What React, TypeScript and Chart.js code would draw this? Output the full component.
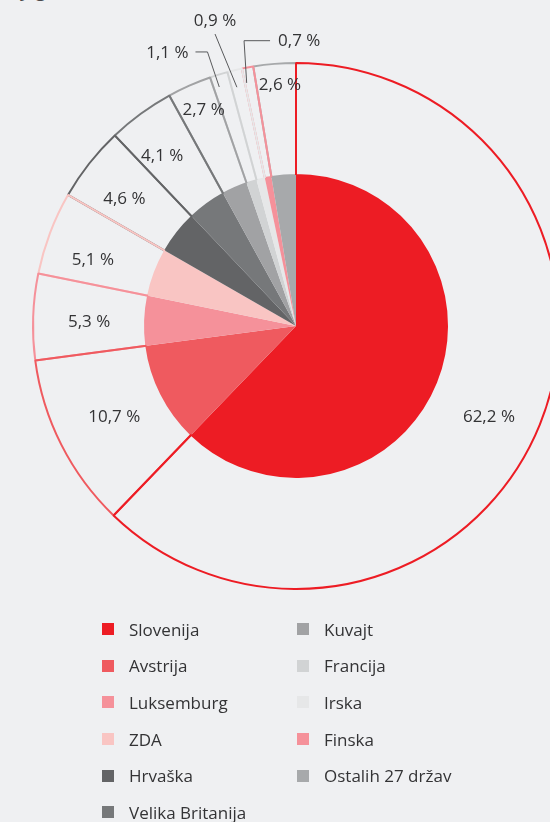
import React, { useEffect, useRef } from 'react';
import { Chart, registerables } from 'chart.js';

Chart.register(...registerables);

// ---- data ----
const categories = [
  'Slovenija',
  'Avstrija',
  'Luksemburg',
  'ZDA',
  'Hrvaška',
  'Velika Britanija',
  'Kuvajt',
  'Francija',
  'Irska',
  'Finska',
  'Ostalih 27 držav',
];
const shares = [62.2, 10.7, 5.3, 5.1, 4.6, 4.1, 2.7, 1.1, 0.9, 0.7, 2.6];
const shareLabels = shares.map((v) => v.toFixed(1).replace('.', ',') + ' %');
const colors = [
  '#ed1c24',
  '#ef5a5f',
  '#f5919a',
  '#f9c5c3',
  '#636466',
  '#76787a',
  '#a1a2a4',
  '#d1d3d4',
  '#e6e7e8',
  '#f5919a',
  '#a7a9ab',
];

// ---- layout (label placement relative to each arc) ----
type Lay =
  | { kind: 'in'; r: number; da: number }
  | { kind: 'lead'; r0: number; a0: number; r1: number; a1: number; h: number; pos: 'left' | 'up' | 'right' };
const LABEL_LAYOUT: Lay[] = [
  { kind: 'in', r: 213, da: 3.1 },
  { kind: 'in', r: 203, da: 0.4 },
  { kind: 'in', r: 207, da: -0.6 },
  { kind: 'in', r: 214, da: -2.4 },
  { kind: 'in', r: 214, da: -1.5 },
  { kind: 'in', r: 217, da: -1.9 },
  { kind: 'in', r: 236, da: 0.9 },
  { kind: 'lead', r0: 251, a0: -0.7, r1: 288, a1: -0.8, h: -12, pos: 'left' },
  { kind: 'lead', r0: 246, a0: -0.4, r1: 303, a1: -2, h: 0, pos: 'up' },
  { kind: 'lead', r0: 248, a0: -0.85, r1: 290, a1: 0.3, h: 26, pos: 'right' },
  { kind: 'in', r: 243, da: 0.9 },
];

const BG = '#eff0f2';
const TEXT = '#333335';
const FONT = '"Open Sans", "Noto Sans", sans-serif';

// draw the outer (outline) ring so that earlier slices' borders sit on top
const reverseOuterPlugin = {
  id: 'reverseOuter',
  beforeDatasetDraw(chart: any, args: any) {
    if (args.index !== 0) return;
    const els = args.meta.data;
    for (let i = els.length - 1; i >= 0; i--) els[i].draw(chart.ctx, chart.chartArea);
    return false;
  },
};

const labelPlugin = {
  id: 'shareLabels',
  afterDatasetsDraw(chart: any) {
    const meta = chart.getDatasetMeta(0);
    const ctx: CanvasRenderingContext2D = chart.ctx;
    const deg = Math.PI / 180;
    ctx.save();
    ctx.font = `17px ${FONT}`;
    ctx.fillStyle = TEXT;
    ctx.textBaseline = 'alphabetic';
    meta.data.forEach((arc: any, i: number) => {
      const { x, y, startAngle, endAngle } = arc.getProps(['x', 'y', 'startAngle', 'endAngle'], true);
      const mid = (startAngle + endAngle) / 2;
      const pt = (r: number, a: number) => [x + r * Math.cos(a), y + r * Math.sin(a)];
      const lay = LABEL_LAYOUT[i];
      if (lay.kind === 'in') {
        const [lx, ly] = pt(lay.r, mid + lay.da * deg);
        ctx.textAlign = 'center';
        ctx.fillText(shareLabels[i], lx, ly + 6);
      } else {
        const [sx, sy] = pt(lay.r0, mid + lay.a0 * deg);
        const [ex, ey] = pt(lay.r1, mid + lay.a1 * deg);
        ctx.strokeStyle = '#58595b';
        ctx.lineWidth = 1;
        ctx.beginPath();
        ctx.moveTo(sx, sy);
        ctx.lineTo(ex, ey);
        if (lay.h !== 0) ctx.lineTo(ex + lay.h, ey);
        ctx.stroke();
        if (lay.pos === 'left') {
          ctx.textAlign = 'right';
          ctx.fillText(shareLabels[i], ex + lay.h - 7, ey + 6);
        } else if (lay.pos === 'right') {
          ctx.textAlign = 'left';
          ctx.fillText(shareLabels[i], ex + lay.h + 8, ey + 5);
        } else {
          ctx.textAlign = 'center';
          ctx.fillText(shareLabels[i], ex, ey - 8);
        }
      }
    });
    ctx.restore();
  },
};

function Legend() {
  return (
    <div
      style={{
        position: 'absolute',
        left: 102,
        top: 611,
        display: 'grid',
        gridAutoFlow: 'column',
        gridTemplateRows: 'repeat(6, 36.6px)',
        gridTemplateColumns: '195px 200px',
        fontFamily: FONT,
        fontSize: 17,
        color: TEXT,
      }}
    >
      {categories.map((c, i) => (
        <div key={c} style={{ display: 'flex', alignItems: 'center', whiteSpace: 'nowrap' }}>
          <span
            style={{
              display: 'inline-block',
              width: 12,
              height: 12,
              background: colors[i],
              marginRight: 15,
              flex: 'none',
            }}
          />
          <span>{c}</span>
        </div>
      ))}
    </div>
  );
}

export default function App() {
  const ref = useRef<HTMLCanvasElement>(null);
  useEffect(() => {
    if (!ref.current) return;
    const chart = new Chart(ref.current, {
      type: 'pie',
      data: {
        labels: categories,
        datasets: [
          {
            data: shares,
            backgroundColor: 'rgba(0,0,0,0)',
            borderColor: colors,
            borderWidth: 2,
            weight: 112,
            order: 1,
          } as any,
          {
            data: shares,
            backgroundColor: colors,
            borderWidth: 0,
            weight: 151,
            order: 0,
          } as any,
        ],
      },
      options: {
        animation: false,
        responsive: false,
        radius: 263,
        layout: { padding: { left: 42, top: 0, right: 0, bottom: 0 } },
        events: [],
        plugins: {
          legend: { display: false },
          tooltip: { enabled: false },
        },
      } as any,
      plugins: [reverseOuterPlugin, labelPlugin],
    });
    return () => chart.destroy();
  }, []);

  return (
    <div
      style={{
        position: 'fixed',
        left: 0,
        top: 0,
        width: 550,
        height: 822,
        background: BG,
        overflow: 'hidden',
      }}
    >
      <div
        style={{
          position: 'absolute',
          left: 20,
          top: -23,
          fontFamily: FONT,
          fontSize: 20,
          color: '#4a4a4c',
          lineHeight: '24px',
        }}
      >
        y g
      </div>
      <canvas
        ref={ref}
        width={550}
        height={652}
        style={{ position: 'absolute', left: 0, top: 0, width: 550, height: 652 }}
      />
      <Legend />
    </div>
  );
}
